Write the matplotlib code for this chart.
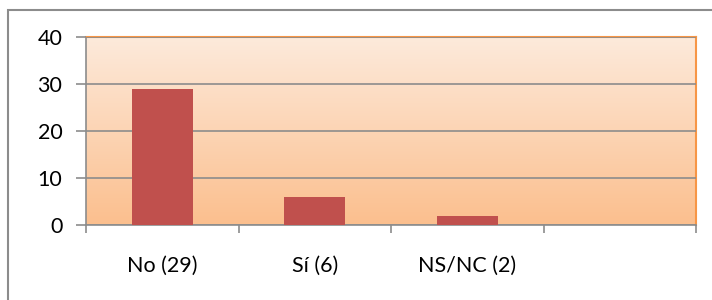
import numpy as np
import matplotlib.pyplot as plt
from matplotlib.colors import LinearSegmentedColormap
from matplotlib.patches import Rectangle

categories = ["No (29)", "Sí (6)", "NS/NC (2)", ""]
values = [29, 6, 2, 0]
yticks = [0, 10, 20, 30, 40]

plt.rcParams['font.family'] = ['Lato', 'DejaVu Sans']

fig = plt.figure(figsize=(7.12, 3.0), dpi=100)
# outer chart frame
fig.patches.append(Rectangle((8/712, -0.1), 720/712, (290/300) + 0.1,
                             transform=fig.transFigure, fill=False,
                             edgecolor='#8c8c8c', linewidth=1.5))

ax = fig.add_axes([86/712, 1 - 225/300, 610/712, 188/300])

# gradient background
grad = LinearSegmentedColormap.from_list('g', ['#FBBF8E', '#FDEADB'])
ax.imshow(np.linspace(0, 1, 256).reshape(-1, 1), cmap=grad, aspect='auto',
          extent=[-0.5, 3.5, 0, 40], origin='lower', zorder=0)

x = np.arange(len(categories))
ax.bar(x, values, width=0.4, color='#C0504D', zorder=3)

ax.set_xlim(-0.5, 3.5)
ax.set_ylim(0, 40)
ax.set_yticks(yticks)
ax.yaxis.grid(True, color='#8c8c8c', linewidth=1.2, zorder=2)
ax.set_axisbelow(False)

ax.set_xticks(np.arange(-0.5, 4, 1), minor=False)
ax.set_xticklabels([])
ax.set_xticks(x, minor=True)
ax.set_xticklabels(categories, minor=True)
ax.tick_params(axis='x', which='minor', length=0, pad=22, labelsize=15.5)
ax.tick_params(axis='x', which='major', length=6, color='#8c8c8c', width=1.2)
ax.tick_params(axis='y', length=7, color='#8c8c8c', width=1.2, labelsize=15.5, pad=10)

for s in ['left', 'bottom']:
    ax.spines[s].set_color('#8c8c8c')
    ax.spines[s].set_linewidth(1.2)
for s in ['top', 'right']:
    ax.spines[s].set_color('#F79646')
    ax.spines[s].set_linewidth(1.5)

fig.savefig('out.png', dpi=100)
